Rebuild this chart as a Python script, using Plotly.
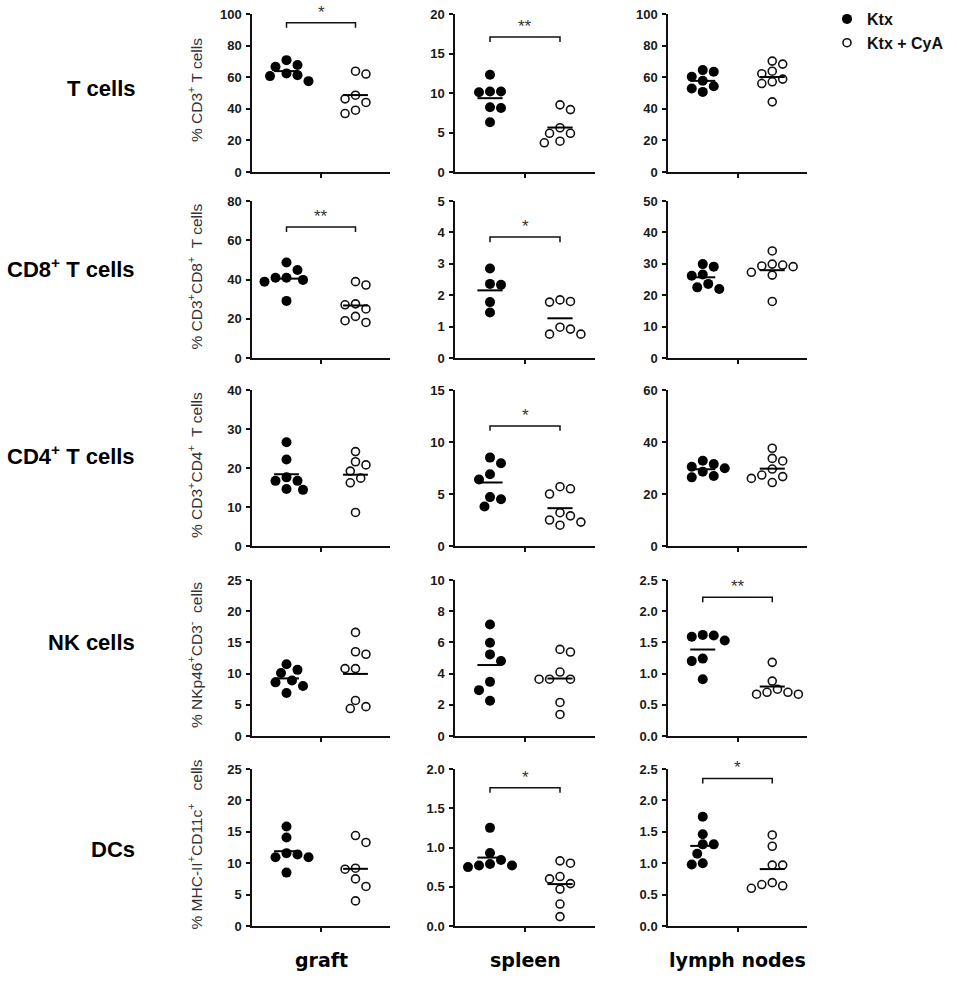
import numpy as np
import plotly.graph_objects as go

# rows = cell populations, columns = tissues
cell_types = ["T cells", "CD8<sup>+</sup> T cells", "CD4<sup>+</sup> T cells", "NK cells", "DCs"]
tissues = ["graft", "spleen", "lymph nodes"]
y_titles = ["% CD3<sup>+</sup> T cells",
            "% CD3<sup>+</sup>CD8<sup>+</sup>&nbsp; T cells",
            "% CD3<sup>+</sup>CD4<sup>+</sup>&nbsp; T cells",
            "% NKp46<sup>+</sup>CD3<sup>-</sup>&nbsp; cells",
            "% MHC-II<sup>+</sup>CD11c<sup>+</sup>&nbsp;&nbsp; cells"]

y_max = [[100, 20, 100], [80, 5, 50], [40, 15, 60], [25, 10, 2.5], [25, 2.0, 2.5]]
y_step = [[20, 5, 20], [20, 1, 10], [10, 5, 20], [5, 2, 0.5], [5, 0.5, 0.5]]

# Ktx alone (filled)
ktx = [
    [[61.3, 67.7, 66.6, 70.8, 57.5, 60.7, 62.4],
     [12.3, 10.2, 10.1, 10.2, 8.2, 8.1, 6.3],
     [63.4, 60.3, 64.5, 54.3, 57.7, 50.7, 52.9]],
    [[48.7, 44.8, 40.9, 39.8, 38.9, 40.9, 29.1],
     [2.85, 2.36, 2.33, 1.78, 1.45],
     [29.9, 29.1, 26.6, 26.2, 23.6, 22.0, 22.5]],
    [[26.6, 22.2, 17.6, 16.7, 16.7, 14.4, 14.6],
     [7.95, 8.5, 6.9, 6.4, 4.7, 4.5, 3.8],
     [32.8, 31.5, 30.5, 29.9, 28.6, 26.4, 26.9]],
    [[11.5, 10.1, 10.6, 8.6, 8.9, 8.0, 6.9],
     [7.15, 5.98, 5.23, 4.81, 3.47, 2.94, 2.26],
     [1.61, 1.53, 1.59, 1.62, 1.24, 1.20, 0.91]],
    [[15.85, 14.1, 11.6, 10.96, 10.96, 11.4, 8.5],
     [1.25, 0.93, 0.84, 0.77, 0.75, 0.77, 0.79],
     [1.74, 1.46, 1.30, 1.30, 1.15, 0.98, 1.00]],
]

# Ktx + CyA (open)
cya = [
    [[62.0, 63.8, 44.0, 48.6, 46.3, 37.0, 39.1],
     [7.9, 8.5, 4.9, 5.6, 4.9, 3.7, 3.9],
     [70.2, 68.3, 62.2, 63.8, 57.1, 56.0, 58.8, 44.4]],
    [[37.2, 38.9, 27.1, 25.0, 27.6, 21.2, 18.1, 19.0],
     [1.80, 1.78, 1.85, 0.92, 0.76, 0.76, 0.98],
     [34.1, 29.3, 29.9, 29.6, 29.1, 27.3, 26.4, 18.0]],
    [[24.2, 20.8, 21.6, 17.4, 19.2, 16.2, 8.6],
     [5.7, 5.5, 5.0, 3.2, 2.5, 2.0, 2.3, 2.9],
     [37.6, 32.7, 33.7, 29.6, 26.7, 26.0, 27.3, 24.4]],
    [[16.6, 13.1, 13.5, 10.8, 10.8, 5.7, 4.4, 4.7],
     [5.55, 5.38, 3.64, 3.64, 3.64, 4.1, 2.15, 1.38],
     [1.18, 0.88, 0.75, 0.70, 0.67, 0.67, 0.70]],
    [[14.4, 13.3, 9.04, 9.2, 7.5, 6.3, 4.0],
     [0.80, 0.83, 0.60, 0.63, 0.54, 0.47, 0.28, 0.12],
     [1.45, 1.27, 0.97, 0.97, 0.66, 0.60, 0.64, 0.69]],
]

# significance: (row, col) -> label
sig = {(0, 0): "*", (0, 1): "**", (1, 0): "**", (1, 1): "*",
       (2, 1): "*", (3, 2): "**", (4, 1): "*", (4, 2): "*"}
# bracket height as a share of the axis maximum
sig_height = {(0, 0): 0.945, (0, 1): 0.855, (1, 0): 0.835, (1, 1): 0.77,
              (2, 1): 0.77, (3, 2): 0.89, (4, 1): 0.88, (4, 2): 0.94}

W, H = 957, 981
col_px = [(252, 390), (455, 595), (668, 807)]
row_px = [(14, 172), (201, 358), (390, 546), (580, 736), (769, 926)]
label_y = [88, 268, 455, 642, 849]
FONT = "Liberation Sans, Arial, sans-serif"


def fx(px):
    return px / W


def fy(py):
    return 1 - py / H


def swarm(vals, ymax, h_px, w_px, diam):
    # simple column scatter: push points sideways until they stop overlapping
    py = h_px / ymax
    px = w_px / 4.0
    step = diam * 0.55
    placed = []
    offs = [0.0] * len(vals)
    for i in sorted(range(len(vals)), key=lambda j: -vals[j]):
        y = vals[i] * py
        bias = sum(p[0] for p in placed)
        k = 0
        while True:
            if k == 0:
                cands = [0.0]
            elif bias > 0:
                cands = [-k * step, k * step]
            else:
                cands = [k * step, -k * step]
            ok = None
            for c in cands:
                if all((c - a) ** 2 + (y - b) ** 2 >= diam ** 2 for a, b in placed):
                    ok = c
                    break
            if ok is not None:
                break
            k += 1
        placed.append((ok, y))
        offs[i] = ok / px
    return offs


groups = [
    dict(name="Ktx", center=1.0, data=ktx,
         marker=dict(symbol="circle", size=10, color="black", line=dict(width=0)), diam=10),
    dict(name="Ktx + CyA", center=3.0, data=cya,
         marker=dict(symbol="circle", size=8, color="white", line=dict(width=1.6, color="#111")), diam=9.5),
]

fig = go.Figure()
layout = {}
annotations = []

for r in range(5):
    for c in range(3):
        k = r * 3 + c + 1
        xa = "x" if k == 1 else f"x{k}"
        ya = "y" if k == 1 else f"y{k}"
        ymax = y_max[r][c]
        h_px = row_px[r][1] - row_px[r][0]
        w_px = col_px[c][1] - col_px[c][0]

        for g in groups:
            vals = g["data"][r][c]
            offs = swarm(vals, ymax, h_px, w_px, g["diam"])
            xs = [g["center"] + o for o in offs]
            fig.add_trace(go.Scatter(
                x=xs, y=vals, xaxis=xa, yaxis=ya, mode="markers",
                marker=g["marker"], name=g["name"], legendgroup=g["name"],
                showlegend=(k == 1), cliponaxis=False, hoverinfo="y"))
            m = float(np.mean(vals))
            fig.add_trace(go.Scatter(
                x=[g["center"] - 0.36, g["center"] + 0.36], y=[m, m],
                xaxis=xa, yaxis=ya, mode="lines",
                line=dict(color="black", width=2), showlegend=False,
                hoverinfo="skip", cliponaxis=False))

        if (r, c) in sig:
            top = sig_height[(r, c)] * ymax
            tip = top - 0.032 * ymax
            fig.add_trace(go.Scatter(
                x=[1, 1, 3, 3], y=[tip, top, top, tip], xaxis=xa, yaxis=ya,
                mode="lines", line=dict(color="#111", width=1.5),
                showlegend=False, hoverinfo="skip", cliponaxis=False))
            annotations.append(dict(
                x=2, y=top, xref=xa, yref=ya, text=sig[(r, c)], showarrow=False,
                yanchor="bottom", yshift=-1,
                font=dict(family=FONT, size=17, color="#333")))

        step = y_step[r][c]
        ticks = list(np.round(np.arange(0, ymax + step / 2, step), 2))
        fmt = ".1f" if step < 1 else "d"
        xname = "xaxis" if k == 1 else f"xaxis{k}"
        yname = "yaxis" if k == 1 else f"yaxis{k}"
        layout[xname] = dict(
            domain=[fx(col_px[c][0]), fx(col_px[c][1])], anchor=ya,
            range=[0, 4], showline=True, linecolor="#111", linewidth=1.5,
            ticks="outside", ticklen=4, tickwidth=1.5, tickcolor="#111",
            tickvals=[2], showticklabels=False, showgrid=False, zeroline=False,
            automargin=False)
        layout[yname] = dict(
            domain=[fy(row_px[r][1]), fy(row_px[r][0])], anchor=xa,
            range=[0, ymax], showline=True, linecolor="#111", linewidth=1.5,
            ticks="outside", ticklen=4, tickwidth=1.5, tickcolor="#111",
            tickvals=ticks, tickformat=fmt, showgrid=False, zeroline=False,
            ticklabelstandoff=2, automargin=False, ticklabeloverflow="allow",
            tickfont=dict(family=FONT, size=13, color="#1a1a1a", weight="bold"))

for r in range(5):
    mid = (row_px[r][0] + row_px[r][1]) / 2
    annotations.append(dict(
        x=fx(137), y=fy(label_y[r]), xref="paper", yref="paper",
        text=cell_types[r], showarrow=False, xanchor="right", yanchor="middle",
        font=dict(family=FONT, size=22, color="black", weight="bold")))
    annotations.append(dict(
        x=fx(195), y=fy(mid - 3), xref="paper", yref="paper",
        text=y_titles[r], showarrow=False, textangle=-90,
        xanchor="center", yanchor="middle",
        font=dict(family=FONT, size=15.5, color="#333")))

for c in range(3):
    annotations.append(dict(
        x=fx((col_px[c][0] + col_px[c][1]) / 2), y=fy(960),
        xref="paper", yref="paper", text=tissues[c], showarrow=False,
        xanchor="center", yanchor="middle",
        font=dict(family="DejaVu Sans, sans-serif", size=19, color="black", weight="bold")))

fig.update_layout(
    template="none",
    width=W, height=H, margin=dict(l=0, r=0, t=0, b=0, autoexpand=False),
    paper_bgcolor="white", plot_bgcolor="white",
    annotations=annotations,
    legend=dict(x=fx(827), y=fy(2), xanchor="left", yanchor="top",
                font=dict(family=FONT, size=16, color="#111", weight="bold"),
                bgcolor="rgba(0,0,0,0)", tracegroupgap=0, itemwidth=30),
    **layout)

# drop the default page margin so the 957x981 figure fills the window
fig.write_html("out.html", config={"displayModeBar": False},
               post_script="document.body.style.margin = '0';")
